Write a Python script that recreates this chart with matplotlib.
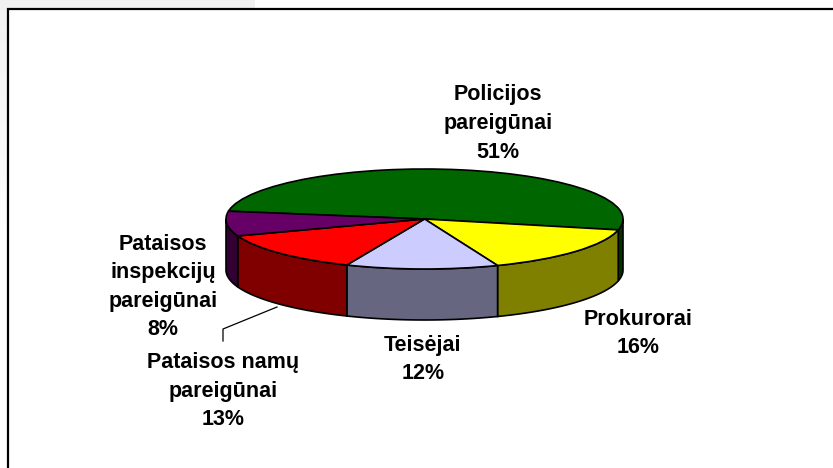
import numpy as np
import matplotlib
matplotlib.use("Agg")
import matplotlib.pyplot as plt
from matplotlib.patches import Rectangle

plt.rcParams["font.family"] = ["Liberation Sans", "DejaVu Sans"]

# Datos
labels = ["Policijos\npareigūnai\n51%", "Prokurorai\n16%", "Teisėjai\n12%",
          "Pataisos namų\npareigūnai\n13%", "Pataisos\ninspekcijų\npareigūnai\n8%"]
values = [51, 15.5, 12.4, 13.1, 8]
top_colors = ["#006600", "#FFFF00", "#CCCCFF", "#FF0000", "#660066"]
side_colors = ["#003300", "#808000", "#666680", "#800000", "#330033"]
label_x = [498, 638, 423, 223, 163]
label_y = [123.5, 333.5, 359.5, 391, 287]

W, H = 833, 468
fig = plt.figure(figsize=(W / 100, H / 100), dpi=100)

# Fondo y marco (coordenadas en pixeles)
bg = fig.add_axes([0, 0, 1, 1])
bg.set_xlim(0, W)
bg.set_ylim(H, 0)
bg.axis("off")
bg.add_patch(Rectangle((0, 0), 255, 8, color="#f1f1f1", lw=0))
fade = np.linspace(0.94, 1, 50).reshape(-1, 1)
bg.imshow(fade, extent=(0, 7, 260, 0), cmap="gray", vmin=0, vmax=1, aspect="auto")
bg.set_xlim(0, W)
bg.set_ylim(H, 0)
bg.plot([W, 8, 8], [9, 9, H], color="black", lw=1.6, solid_joinstyle="miter")

# --- Pastel 3D ---
left, right, top, ry, depth = 226, 623, 169, 50, 51
ax = fig.add_axes([left / W, 1 - (top + 2 * ry + depth) / H,
                   (right - left) / W, (2 * ry + depth) / H])
wedges, _ = ax.pie(values, colors=top_colors, startangle=171, counterclock=False,
                   wedgeprops={"edgecolor": "black", "linewidth": 1.2, "zorder": 3})
ax.set_aspect("auto")
ax.set_xlim(-1, 1)
d = depth / ry
ax.set_ylim(-1 - d, 1)
ax.patch.set_alpha(0)

for w, c in zip(wedges, side_colors):
    for shift in (-360, 0):
        a = max(w.theta1 + shift, -180)
        b = min(w.theta2 + shift, 0)
        if b > a:
            t = np.radians(np.linspace(a, b, 60))
            xs = np.r_[np.cos(t), np.cos(t[::-1])]
            ys = np.r_[np.sin(t), np.sin(t[::-1]) - d]
            ax.fill(xs, ys, facecolor=c, edgecolor="black", lw=1.2, zorder=2, clip_on=False)

# Etiquetas
for txt, x, y in zip(labels, label_x, label_y):
    bg.text(x, y, txt, ha="center", va="center", fontsize=15.5, fontweight="bold",
            color="black", linespacing=1.47, zorder=5)

# Linea guia
bg.plot([277, 223, 223], [307, 329, 341], color="black", lw=0.9)

fig.savefig("out.png", dpi=100)
